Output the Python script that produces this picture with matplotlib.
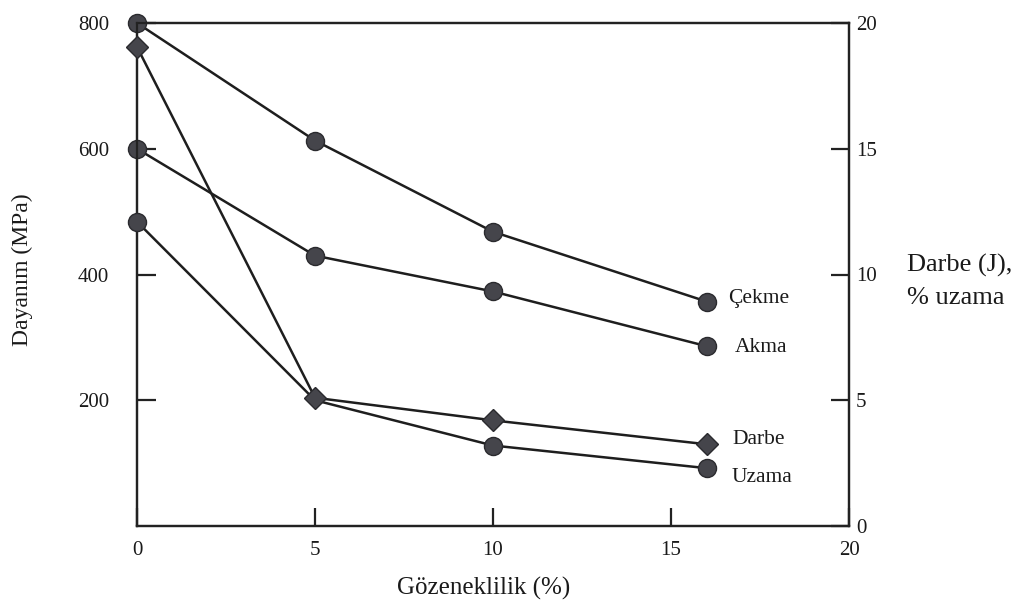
import matplotlib
matplotlib.use("Agg")
import matplotlib.pyplot as plt

porosity = [0, 5, 10, 16]
cekme = [800, 613, 468, 357]      # MPa
akma = [600, 430, 373, 286]       # MPa
darbe = [19.05, 5.1, 4.2, 3.25]   # J
uzama = [12.1, 5.0, 3.2, 2.3]     # %

x_ticks = [0, 5, 10, 15, 20]
left_ticks = [200, 400, 600, 800]
right_ticks = [0, 5, 10, 15, 20]

plt.rcParams['font.family'] = ['Liberation Serif', 'DejaVu Serif']

fig = plt.figure(figsize=(10.24, 6.07), dpi=100)
ax = fig.add_axes([137/1024, 1-526/607, (849-137)/1024, (526-23)/607])
ax2 = ax.twinx()

lc = '#1e1e1e'
mc = '#45454b'
ec = '#2a2a2e'
lw = 1.8
tc = '#1a1a1a'

ax.plot(porosity, cekme, color=lc, lw=lw, marker='o', ms=13, mfc=mc, mec=ec, zorder=3, clip_on=False)
ax.plot(porosity, akma, color=lc, lw=lw, marker='o', ms=13, mfc=mc, mec=ec, zorder=3, clip_on=False)
ax2.plot(porosity, uzama, color=lc, lw=lw, marker='o', ms=13, mfc=mc, mec=ec,
         markevery=[0, 2, 3], zorder=3, clip_on=False)
ax2.plot(porosity, darbe, color=lc, lw=lw, marker='D', ms=11, mfc=mc, mec=ec, zorder=4, clip_on=False)

ax.set_xlim(0, 20)
ax.set_ylim(0, 800)
ax2.set_ylim(0, 20)

ax.set_xticks(x_ticks)
ax.set_xticklabels([str(v) for v in x_ticks])
ax.set_yticks(left_ticks)
ax.set_yticklabels([str(v) for v in left_ticks])
ax2.set_yticks(right_ticks)
ax2.set_yticklabels([str(v) for v in right_ticks])

for a in (ax, ax2):
    for s in a.spines.values():
        s.set_linewidth(1.6)
        s.set_color('#222222')
ax.tick_params(axis='y', direction='in', length=14, width=1.6, color='#222222',
               labelsize=15, labelcolor=tc, pad=20)
ax.tick_params(axis='x', direction='in', length=13, width=1.6, color='#222222',
               labelsize=15, labelcolor=tc, pad=11)
ax2.tick_params(axis='y', direction='in', length=13, width=1.6, color='#222222',
                labelsize=15, labelcolor=tc, pad=5)

fig.text(484/1024, 1-588/607, 'Gözeneklilik (%)', fontsize=18, color=tc, ha='center', va='center')
fig.text(22/1024, 1-270/607, 'Dayanım (MPa)', fontsize=17, color=tc, rotation=90, ha='center', va='center')
fig.text(907/1024, 1-265/607, 'Darbe (J),', fontsize=19, color=tc, ha='left', va='center')
fig.text(907/1024, 1-298/607, '% uzama', fontsize=19, color=tc, ha='left', va='center')

labels = [('Çekme', 728, 298), ('Akma', 735, 348), ('Darbe', 732, 439), ('Uzama', 732, 477)]
for txt, px, py in labels:
    fig.text(px/1024, 1-py/607, txt, fontsize=15.5, color=tc, ha='left', va='center')

fig.savefig('out.png', dpi=100)
